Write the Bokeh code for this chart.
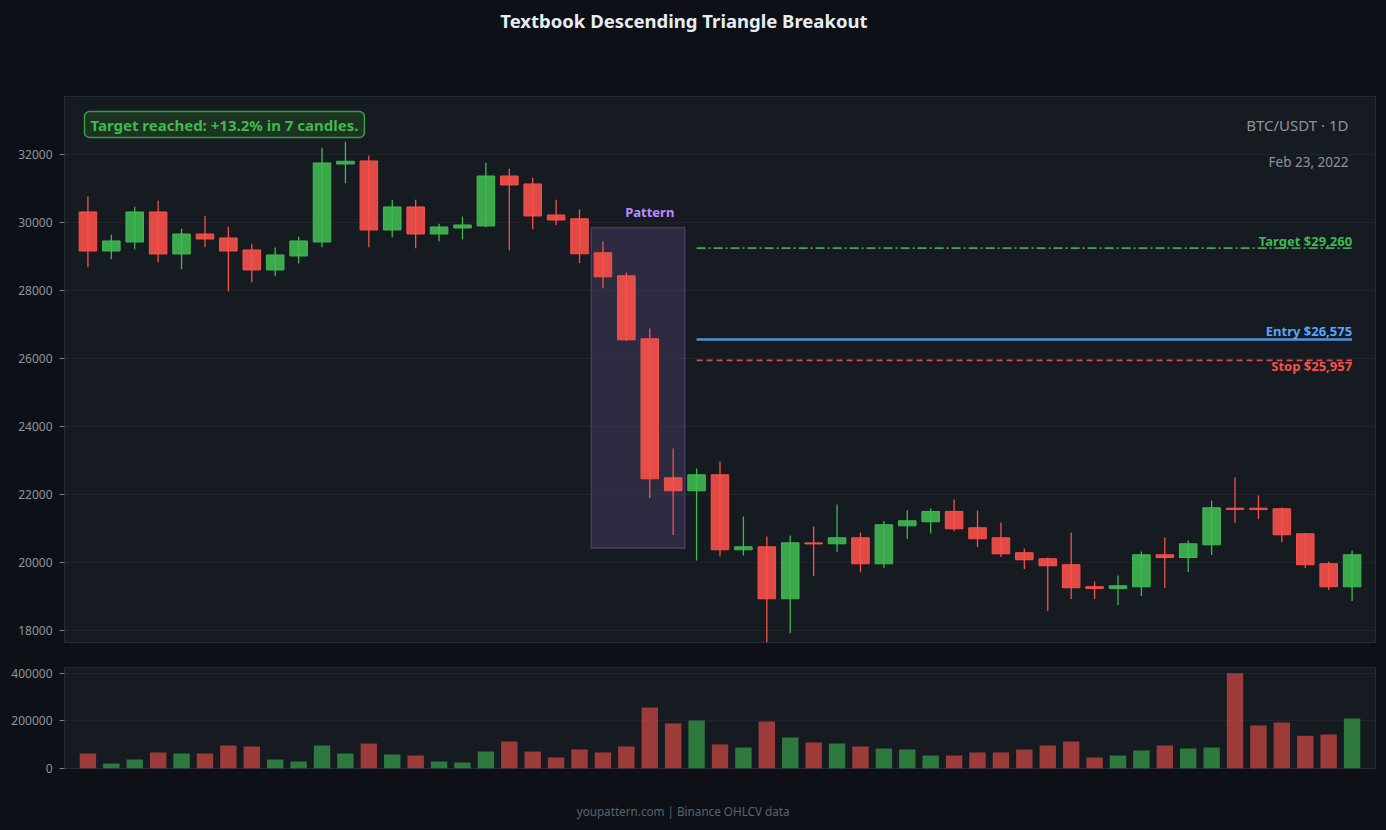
from bokeh.plotting import figure
from bokeh.models import (Range1d, FixedTicker, Label, ColumnDataSource, NumeralTickFormatter,
                          Title, InlineStyleSheet)
from bokeh.layouts import column
from bokeh.embed import file_html
from bokeh.resources import INLINE

# ---------------- data ----------------
opens = [30324, 29176, 29441, 30324, 29088, 29676, 29559, 29206, 28618, 29029,
         29441, 31735, 31824, 29794, 30471, 29676, 29853, 29912, 31382, 31147,
         30235, 30123, 29123, 28446, 26593, 22505, 22123, 22593, 20387, 20475,
         18946, 20590, 20563, 20740, 19975, 21093, 21211, 21515, 21034, 20740,
         20300, 20123, 19947, 19300, 19250, 19300, 20241, 20160, 20535, 21610,
         21610, 21594, 20858, 19976, 19300]
highs = [30775, 29657, 30480, 30657, 29833, 30216, 29892, 29392, 29275, 29598,
         32216, 32392, 31980, 30686, 30686, 29980, 30186, 31775, 31598, 31333,
         30686, 30397, 29456, 28544, 26897, 23368, 22779, 22985, 21367, 20779,
         20808, 21073, 21720, 20897, 21231, 21544, 21603, 21867, 21544, 21191,
         20427, 20162, 20898, 19457, 19633, 20339, 20751, 20662, 21839, 22515,
         21986, 21623, 20878, 20045, 20368]
lows = [28696, 28931, 29225, 28843, 28637, 29284, 27990, 28255, 28431, 28814,
        29284, 31167, 29284, 29578, 29255, 29461, 29520, 29873, 29196, 29814,
        29931, 28819, 28083, 26525, 21907, 20819, 20074, 20191, 20220, 17671,
        17936, 19613, 20319, 19730, 19857, 20701, 20868, 20936, 20466, 20172,
        19819, 18584, 18937, 18937, 18760, 19025, 19260, 19731, 20231, 21172,
        21290, 20613, 19849, 19202, 18878]
closes = [29176, 29471, 30324, 29088, 29676, 29529, 29176, 28618, 29059, 29471,
          31765, 31814, 29794, 30471, 29676, 29882, 29941, 31382, 31118, 30206,
          30088, 29094, 28417, 26564, 22476, 22123, 22593, 20387, 20475, 18946,
          20593, 20560, 20740, 19975, 21123, 21240, 21515, 21005, 20711, 20269,
          20094, 19917, 19270, 19250, 19329, 20241, 20160, 20564, 21623, 21575,
          21570, 20829, 19947, 19300, 20241]
volumes = [63000, 21000, 38000, 67000, 63000, 63000, 96500, 92000, 38000, 29000,
           96500, 63000, 105000, 59000, 54500, 29000, 25000, 71000, 113000, 71000,
           46000, 80000, 67000, 92000, 256000, 189000, 201000, 101000, 88000, 197000,
           130000, 109000, 105000, 92000, 84000, 80000, 54500, 54500, 67000, 67000,
           80000, 96500, 113000, 46000, 54500, 75500, 96500, 84000, 88000, 400000,
           180000, 193000, 138000, 143000, 210000]

price_ticks = [18000, 20000, 22000, 24000, 26000, 28000, 30000, 32000]
volume_ticks = [0, 200000, 400000]
price_range = (17660, 33720)
volume_range = (0, 424000)

title_text = "Textbook Descending Triangle Breakout"
footer_text = "youpattern.com | Binance OHLCV data"
symbol_text = "BTC/USDT · 1D"
date_text = "Feb 23, 2022"
result_text = "Target reached: +13.2% in 7 candles."
pattern_text = "Pattern"

pattern_start, pattern_end = 22, 25
pattern_top, pattern_bottom = 29870, 20430
breakout_index = 26
target_price = 29260
entry_price = 26575
stop_price = 25957

# ---------------- style ----------------
FONT = "Noto Sans"
PAGE_BG = "#0d1117"
PANEL_BG = "#161b22"
GREEN = "#3fb950"
RED = "#f85149"
BLUE = "#58a6ff"
PURPLE = "#bc8cff"
MUTED = "#8b949e"
W = 1386

css = InlineStyleSheet(css="""
:host { background: #0d1117; }
svg rect[fill="#FFFFFF"], svg rect[fill="#ffffff"], svg rect[fill="white"] { fill: #0d1117 !important; }
""")

n = len(opens)
xs = list(range(n))
up = [c >= o for o, c in zip(opens, closes)]
colors = [GREEN if u else RED for u in up]
src = ColumnDataSource(dict(
    x=xs, open=opens, high=highs, low=lows, close=closes, vol=volumes,
    top=[max(o, c) for o, c in zip(opens, closes)],
    bottom=[min(o, c) for o, c in zip(opens, closes)],
    color=colors,
))


def style_axis(ax):
    ax.axis_line_color = None
    ax.major_tick_line_color = MUTED
    ax.major_tick_line_alpha = 0.8
    ax.major_tick_out = 5
    ax.major_tick_in = 0
    ax.minor_tick_line_color = None
    ax.major_label_text_color = MUTED
    ax.major_label_text_font = FONT
    ax.major_label_text_font_size = "12px"
    ax.major_label_standoff = 7


def spacer(standoff):
    return Title(text=" ", text_font_size="10px", standoff=standoff, text_color=PAGE_BG)


# ---------------- main price panel ----------------
p = figure(width=W, height=650, x_range=Range1d(-1, n), y_range=Range1d(*price_range),
           output_backend="svg", toolbar_location=None, x_axis_location=None,
           min_border_left=64, min_border_right=11, min_border_top=96, min_border_bottom=8,
           background_fill_color=PANEL_BG, border_fill_color=PAGE_BG,
           outline_line_color="#30363d", outline_line_alpha=0.7, stylesheets=[css])
p.xgrid.visible = False
p.yaxis.ticker = FixedTicker(ticks=price_ticks)
p.ygrid.grid_line_color = "#30363d"
p.ygrid.grid_line_alpha = 0.35
style_axis(p.yaxis[0])

# page title (spacer keeps it near the top of the page)
p.add_layout(spacer(50), "above")
p.add_layout(Title(text=title_text, align="right", offset=508, vertical_align="middle",
                   standoff=0, text_font=FONT, text_font_size="18.5px",
                   text_font_style="bold", text_color="#e6edf3"), "above")

# pattern box
p.quad(left=[pattern_start - 0.5], right=[pattern_end + 0.5], top=[pattern_top],
       bottom=[pattern_bottom], fill_color=PURPLE, fill_alpha=0.14,
       line_color=PURPLE, line_alpha=0.22, line_width=1.5)

# candles
p.segment(x0="x", y0="low", x1="x", y1="high", source=src, line_color="color", line_width=1.3)
p.vbar(x="x", top="top", bottom="bottom", width=0.75, source=src,
       fill_color="color", fill_alpha=0.9, line_color="color", line_width=1)

# level lines
x_lv = [breakout_index, n - 1]
p.line(x=x_lv, y=[target_price, target_price], line_color=GREEN, line_width=1.6,
       line_dash="9 3 2 3", line_alpha=0.9)
p.line(x=x_lv, y=[entry_price, entry_price], line_color=BLUE, line_width=2.5, line_alpha=0.85)
p.line(x=x_lv, y=[stop_price, stop_price], line_color=RED, line_width=1.6,
       line_dash="6 4", line_alpha=0.9)

lbl_kw = dict(text_font=FONT, text_font_size="13px", text_font_style="bold", text_align="right")
p.add_layout(Label(x=n - 1, y=target_price, text=f"Target ${target_price:,}", text_color=GREEN,
                   text_baseline="bottom", y_offset=-2, **lbl_kw))
p.add_layout(Label(x=n - 1, y=entry_price, text=f"Entry ${entry_price:,}", text_color=BLUE,
                   text_baseline="bottom", y_offset=-1, **lbl_kw))
p.add_layout(Label(x=n - 1, y=stop_price, text=f"Stop ${stop_price:,}", text_color=RED,
                   text_baseline="top", y_offset=3, **lbl_kw))

# pattern label
p.add_layout(Label(x=(pattern_start + pattern_end) / 2 + 0.5, y=pattern_top, y_offset=6,
                   text=pattern_text, text_align="center", text_baseline="bottom",
                   text_font=FONT, text_font_size="13px", text_font_style="bold",
                   text_color=PURPLE))

# header texts
p.add_layout(Label(x=n, y=price_range[1], x_offset=-27, y_offset=-28, text=symbol_text,
                   text_align="right", text_baseline="middle", text_font=FONT,
                   text_font_size="15px", text_color=MUTED))
p.add_layout(Label(x=n, y=price_range[1], x_offset=-27, y_offset=-65, text=date_text,
                   text_align="right", text_baseline="middle", text_font=FONT,
                   text_font_size="13.5px", text_color=MUTED))

# result box
p.add_layout(Label(x=-1, y=price_range[1], x_offset=20, y_offset=-15, text=result_text,
                   text_align="left", text_baseline="top", text_font=FONT,
                   text_font_size="15px", text_font_style="bold", text_color=GREEN,
                   background_fill_color="#1b3320", background_fill_alpha=1.0,
                   border_line_color=GREEN, border_line_alpha=0.8, border_line_width=1.5,
                   padding=(6, 6, 3, 3), border_radius=5))

# ---------------- volume panel ----------------
pv = figure(width=W, height=180, x_range=p.x_range, y_range=Range1d(*volume_range),
            output_backend="svg", toolbar_location=None, x_axis_location=None,
            min_border_left=64, min_border_right=11, min_border_top=17, min_border_bottom=62,
            background_fill_color=PANEL_BG, border_fill_color=PAGE_BG,
            outline_line_color="#30363d", outline_line_alpha=0.7, stylesheets=[css])
pv.xgrid.visible = False
pv.yaxis.ticker = FixedTicker(ticks=volume_ticks)
pv.yaxis.formatter = NumeralTickFormatter(format="0")
pv.ygrid.grid_line_color = "#30363d"
pv.ygrid.grid_line_alpha = 0.35
style_axis(pv.yaxis[0])
pv.vbar(x="x", top="vol", bottom=0, width=0.7, source=src, fill_color="color",
        fill_alpha=0.6, line_color=None)

# footer (spacer keeps it near the bottom of the page)
pv.add_layout(spacer(20), "below")
pv.add_layout(Title(text=footer_text, align="right", offset=586, vertical_align="middle",
                    standoff=0, text_font=FONT, text_font_size="11.7px",
                    text_font_style="normal", text_color="#5a626d"), "below")

layout = column(p, pv, spacing=0, stylesheets=[css])
html = file_html(layout, INLINE, title="Descending Triangle Breakout")
html = html.replace("<body>", '<body style="margin:0;background:#0d1117;">', 1)
open("out.html", "w").write(html)
